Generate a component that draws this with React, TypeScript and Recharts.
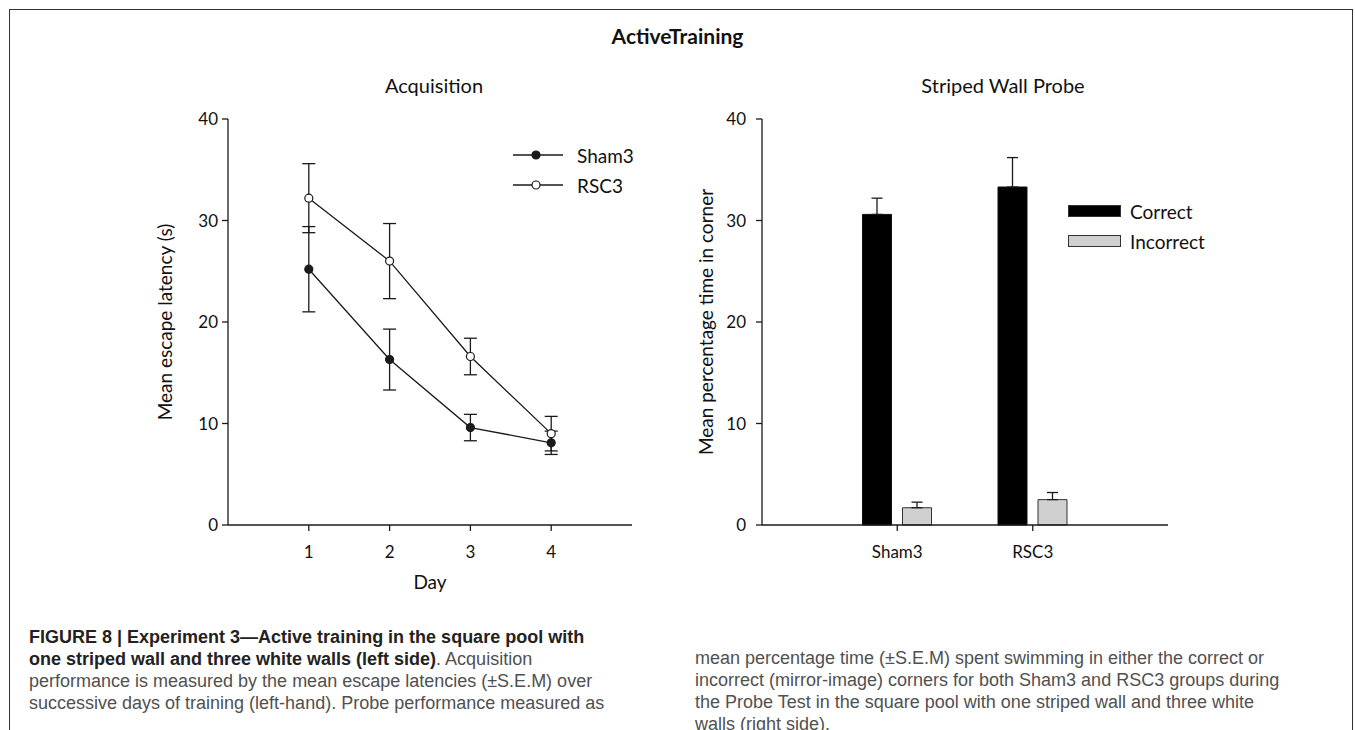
import React from 'react';
import { LineChart, Line, BarChart, Bar, XAxis, YAxis, ErrorBar, Legend } from 'recharts';

// Acquisition (left panel)
const days = [1, 2, 3, 4];
const sham3Latency = [25.2, 16.3, 9.6, 8.1];
const sham3LatencySem = [4.2, 3.0, 1.3, 1.15];
const rsc3Latency = [32.2, 26.0, 16.6, 9.0];
const rsc3LatencySem = [3.4, 3.7, 1.8, 1.7];
const latencyTicks = [0, 10, 20, 30, 40];

// Striped wall probe (right panel)
const groups = ['Sham3', 'RSC3'];
const correctPct = [30.6, 33.3];
const correctSem = [1.6, 2.9];
const incorrectPct = [1.7, 2.5];
const incorrectSem = [0.55, 0.7];
const pctTicks = [0, 10, 20, 30, 40];

const acquisitionData = days.map((day, i) => ({
  day,
  sham3: sham3Latency[i],
  sham3Err: sham3LatencySem[i],
  rsc3: rsc3Latency[i],
  rsc3Err: rsc3LatencySem[i],
}));

const probeData = groups.map((group, i) => ({
  group,
  correct: correctPct[i],
  correctErr: [0, correctSem[i]],
  incorrect: incorrectPct[i],
  incorrectErr: [0, incorrectSem[i]],
}));

const INK = '#1a1a1a';
const CHART_FONT = 'Lato, "Open Sans", sans-serif';
const CAPTION_FONT = '"Liberation Sans", Arial, sans-serif';

const lineSeries = [
  { key: 'sham3', name: 'Sham3', fill: INK },
  { key: 'rsc3', name: 'RSC3', fill: '#fff' },
];

const barSeries = [
  { key: 'correct', name: 'Correct', fill: '#000' },
  { key: 'incorrect', name: 'Incorrect', fill: '#d0d0d0' },
];

function LineLegend() {
  return (
    <div>
      {lineSeries.map(s => (
        <div key={s.key} style={{ display: 'flex', alignItems: 'center', height: 30 }}>
          <svg width={50} height={30}>
            <line x1={0} y1={15} x2={50} y2={15} stroke={INK} strokeWidth={1.3} />
            <circle cx={23} cy={15} r={4} fill={s.fill} stroke={INK} strokeWidth={1.2} />
          </svg>
          <span style={{ marginLeft: 14, fontSize: 19, color: '#111' }}>{s.name}</span>
        </div>
      ))}
    </div>
  );
}

function BarLegend() {
  return (
    <div>
      {barSeries.map(s => (
        <div key={s.key} style={{ display: 'flex', alignItems: 'center', height: 30 }}>
          <svg width={53} height={30}>
            <rect x={0.5} y={9.5} width={52} height={11} fill={s.fill} stroke="#333" strokeWidth={1} />
          </svg>
          <span style={{ marginLeft: 9, fontSize: 19, color: '#111' }}>{s.name}</span>
        </div>
      ))}
    </div>
  );
}

const tickStyle = { fill: '#111', fontSize: 17 };
const labelStyle = { fill: '#111', fontSize: 19, textAnchor: 'middle' as const };

function AcquisitionChart() {
  return (
    <LineChart
      width={530}
      height={500}
      data={acquisitionData}
      margin={{ top: 19, right: 28, bottom: 0, left: 0 }}
    >
      <XAxis
        dataKey="day"
        type="number"
        domain={[0, 5]}
        ticks={days}
        stroke={INK}
        strokeWidth={1.3}
        tickSize={6}
        tickMargin={15}
        tick={tickStyle}
        height={75}
        label={{ value: 'Day', position: 'insideBottom', offset: 11, style: labelStyle }}
      />
      <YAxis
        domain={[0, 40]}
        ticks={latencyTicks}
        stroke={INK}
        strokeWidth={1.3}
        tickSize={6}
        tickMargin={4}
        tick={tickStyle}
        width={98}
        label={{ value: 'Mean escape latency (s)', angle: -90, position: 'insideLeft', offset: 35, style: labelStyle }}
      />
      <Legend
        layout="vertical"
        align="center"
        verticalAlign="middle"
        content={<LineLegend />}
        wrapperStyle={{ left: 383, top: 40, width: 'auto', height: 'auto' }}
      />
      <Line
        dataKey="sham3"
        name="Sham3"
        stroke={INK}
        strokeWidth={1.3}
        dot={{ r: 4, fill: INK, stroke: INK, strokeWidth: 1.2 }}
        isAnimationActive={false}
      >
        <ErrorBar dataKey="sham3Err" direction="y" width={6.5} stroke={INK} strokeWidth={1.3} />
      </Line>
      <Line
        dataKey="rsc3"
        name="RSC3"
        stroke={INK}
        strokeWidth={1.3}
        dot={{ r: 4, fill: '#fff', stroke: INK, strokeWidth: 1.2 }}
        isAnimationActive={false}
      >
        <ErrorBar dataKey="rsc3Err" direction="y" width={6.5} stroke={INK} strokeWidth={1.3} />
      </Line>
    </LineChart>
  );
}

function ProbeChart() {
  return (
    <BarChart
      width={560}
      height={500}
      data={probeData}
      margin={{ top: 19, right: 52, bottom: 0, left: 0 }}
      barSize={29}
      barGap={11}
    >
      <XAxis
        dataKey="group"
        padding={{ left: 67.5, right: 67.5 }}
        stroke={INK}
        strokeWidth={1.3}
        tickSize={6}
        tickMargin={15}
        tick={tickStyle}
        height={75}
      />
      <YAxis
        domain={[0, 40]}
        ticks={pctTicks}
        stroke={INK}
        strokeWidth={1.3}
        tickSize={6}
        tickMargin={10}
        tick={tickStyle}
        width={102}
        label={{ value: 'Mean percentage time in corner', angle: -90, position: 'insideLeft', offset: 46, style: labelStyle }}
      />
      <Legend
        layout="vertical"
        align="center"
        verticalAlign="middle"
        content={<BarLegend />}
        wrapperStyle={{ left: 408, top: 96, width: 'auto', height: 'auto' }}
      />
      <Bar dataKey="correct" name="Correct" fill="#000" stroke="#111" strokeWidth={1} isAnimationActive={false}>
        <ErrorBar dataKey="correctErr" direction="y" width={5.5} stroke={INK} strokeWidth={1.3} />
      </Bar>
      <Bar dataKey="incorrect" name="Incorrect" fill="#d0d0d0" stroke="#333" strokeWidth={1} isAnimationActive={false}>
        <ErrorBar dataKey="incorrectErr" direction="y" width={5.5} stroke={INK} strokeWidth={1.3} />
      </Bar>
    </BarChart>
  );
}

const captionLeft = [
  { bold: 'FIGURE 8 | Experiment 3\u2014Active training in the square pool with', rest: '' },
  { bold: 'one striped wall and three white walls (left side)', rest: '. Acquisition' },
  { bold: '', rest: 'performance is measured by the mean escape latencies (\u00b1S.E.M) over' },
  { bold: '', rest: 'successive days of training (left-hand). Probe performance measured as' },
];

const captionRight = [
  'mean percentage time (\u00b1S.E.M) spent swimming in either the correct or',
  'incorrect (mirror-image) corners for both Sham3 and RSC3 groups during',
  'the Probe Test in the square pool with one striped wall and three white',
  'walls (right side).',
];

const captionStyle = {
  position: 'absolute' as const,
  fontFamily: CAPTION_FONT,
  fontSize: 18,
  lineHeight: '22px',
  color: '#505050',
  whiteSpace: 'nowrap' as const,
};

export default function App() {
  return (
    <div
      style={{
        position: 'absolute',
        left: 0,
        top: 0,
        width: 1355,
        height: 730,
        overflow: 'hidden',
        background: '#fff',
        fontFamily: CHART_FONT,
      }}
    >
      <div
        style={{
          position: 'absolute',
          left: 9,
          top: 9,
          width: 1342,
          height: 800,
          border: '1.5px solid #333',
        }}
      />
      <div style={{ position: 'absolute', left: 0, width: 1355, top: 23, textAlign: 'center', fontSize: 21, fontWeight: 700, color: '#111' }}>
        ActiveTraining
      </div>
      <div style={{ position: 'absolute', left: 334, width: 200, top: 73, textAlign: 'center', fontSize: 20, color: '#111' }}>
        Acquisition
      </div>
      <div style={{ position: 'absolute', left: 853, width: 300, top: 73, textAlign: 'center', fontSize: 20, color: '#111' }}>
        Striped Wall Probe
      </div>

      <div style={{ position: 'absolute', left: 130, top: 100 }}>
        <AcquisitionChart />
      </div>
      <div style={{ position: 'absolute', left: 660, top: 100 }}>
        <ProbeChart />
      </div>

      <div style={{ ...captionStyle, left: 29, top: 626 }}>
        {captionLeft.map((l, i) => (
          <div key={i}>
            {l.bold && <span style={{ fontWeight: 700, color: '#222' }}>{l.bold}</span>}
            {l.rest}
          </div>
        ))}
      </div>
      <div style={{ ...captionStyle, left: 695, top: 647 }}>
        {captionRight.map((l, i) => (
          <div key={i}>{l}</div>
        ))}
      </div>
    </div>
  );
}
